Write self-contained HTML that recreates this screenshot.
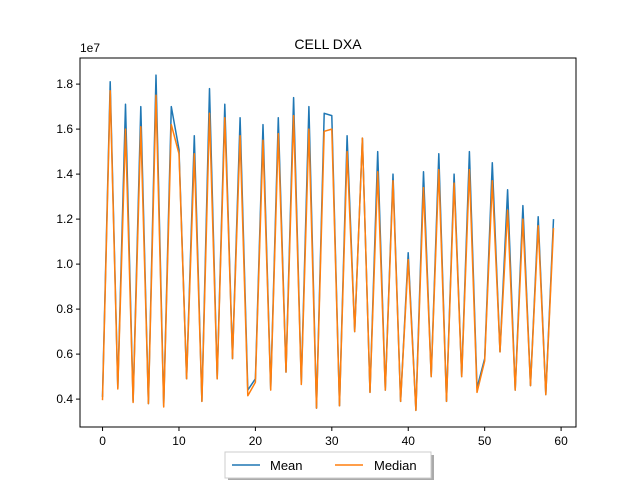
<!DOCTYPE html>
<html><head><meta charset="utf-8"><style>
body{margin:0;background:#fff;font-family:"Liberation Sans","DejaVu Sans",sans-serif}
</style></head><body>
<svg id="chart" width="640" height="480" xmlns="http://www.w3.org/2000/svg">
<rect width="640" height="480" fill="#fff"/>
<text x="328" y="49" text-anchor="middle" font-size="14">CELL DXA</text>
<text x="80" y="52" font-size="12">1e7</text>
<g id="plot"></g>
<rect x="80" y="58" width="496" height="369" fill="none" stroke="#000" stroke-width="1"/>
<g>
<rect x="228" y="455" width="206" height="26" fill="#555" opacity="0.5"/>
<rect x="225" y="452" width="206" height="26" fill="#fff" stroke="#ccc"/>
<line x1="232" y1="465" x2="260" y2="465" stroke="#1f77b4" stroke-width="1.5"/>
<text x="270" y="470" font-size="13">Mean</text>
<line x1="335" y1="465" x2="363" y2="465" stroke="#ff7f0e" stroke-width="1.5"/>
<text x="374" y="470" font-size="13">Median</text>
</g>
</svg>
<script>
const meanValues=[4.1,18.1,4.5,17.1,3.9,17.0,3.8,18.4,3.7,17.0,15.1,4.9,15.7,3.9,17.8,4.9,17.1,5.8,16.5,4.4,4.9,16.2,4.45,16.5,5.2,17.4,4.7,17.0,3.6,16.7,16.6,3.7,15.7,7.0,15.6,4.3,15.0,4.4,14.0,3.9,10.5,3.5,14.1,5.0,14.9,3.9,14.0,5.0,15.0,4.5,5.8,14.5,6.1,13.3,4.4,12.6,4.6,12.1,4.2,12.0];
const medianValues=[3.95,17.7,4.45,16.0,3.85,16.1,3.8,17.5,3.65,16.2,14.9,4.9,14.9,3.9,16.7,4.9,16.5,5.8,15.7,4.15,4.75,15.5,4.4,15.8,5.2,16.6,4.65,16.0,3.6,15.9,16.0,3.7,15.0,7.0,15.6,4.3,14.1,4.4,13.7,3.9,10.2,3.5,13.4,5.0,14.2,3.9,13.6,5.0,14.2,4.3,5.7,13.7,6.1,12.4,4.4,12.0,4.6,11.7,4.2,11.6];
const xTicks=[0,10,20,30,40,50,60];
const yTicks=[0.4,0.6,0.8,1.0,1.2,1.4,1.6,1.8];
const X0=80,X1=576,Y0=58,Y1=427,xmin=-2.95,xmax=61.95,ymin=2.76,ymax=19.16;
const sx=v=>X0+(v-xmin)/(xmax-xmin)*(X1-X0);
const sy=v=>Y1-(v-ymin)/(ymax-ymin)*(Y1-Y0);
const NS="http://www.w3.org/2000/svg",plot=document.getElementById('plot');
function mk(t,a){const e=document.createElementNS(NS,t);for(const k in a)e.setAttribute(k,a[k]);plot.appendChild(e);return e;}
xTicks.forEach(t=>{const x=sx(t);
const l=mk('line',{x1:x,y1:Y1,x2:x,y2:Y1+4,stroke:'#000'});


const tx=mk('text',{x:x,y:Y1+18,'text-anchor':'middle','font-size':12});tx.textContent=t;

});
yTicks.forEach(t=>{const y=sy(t*10);
const l=mk('line',{x1:X0-4,y1:y,x2:X0,y2:y,stroke:'#000'});


const tx=mk('text',{x:X0-7,y:y+4,'text-anchor':'end','font-size':12});tx.textContent=t.toFixed(1);

});
function line(vals,c,name){const p=vals.map((v,i)=>sx(i).toFixed(1)+','+sy(v).toFixed(1)).join(' ');
const e=mk('polyline',{points:p,fill:'none',stroke:c,'stroke-width':1.5,'stroke-linejoin':'round'});

}
line(meanValues,'#1f77b4','mean-line');
line(medianValues,'#ff7f0e','median-line');
</script>
</body></html>
